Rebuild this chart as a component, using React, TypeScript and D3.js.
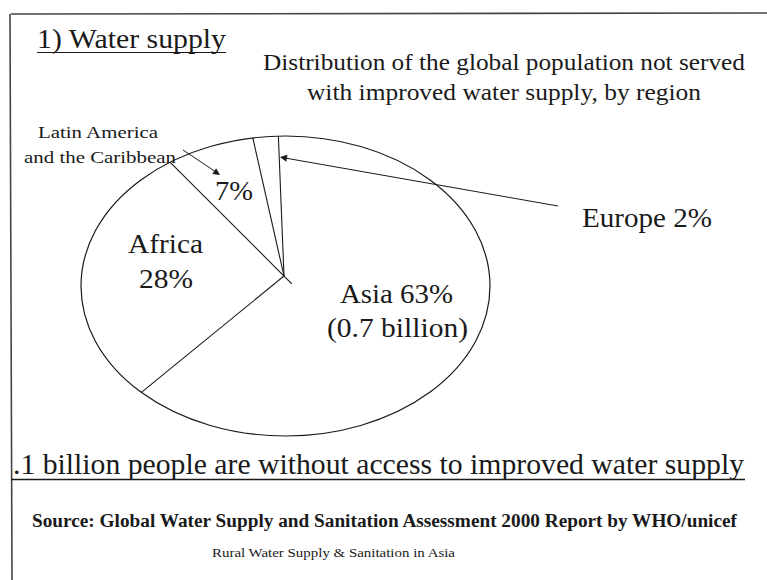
import React from "react";
import * as d3 from "d3";

// ---- data ----
const regions = ["Asia", "Africa", "Latin America and the Caribbean", "Europe"];
const shares = [63, 28, 7, 2];
const pieStartDeg = -2;

const titleText = "1) Water supply";
const subtitleLines = [
  "Distribution of the global population not served",
  "with improved water supply, by region",
];
const latinLabel = ["Latin America", "and the Caribbean"];
const latinPct = "7%";
const africaLabel = ["Africa", "28%"];
const asiaLabel = ["Asia 63%", "(0.7 billion)"];
const europeLabel = "Europe 2%";
const summaryText = ".1 billion people are without access to improved water supply";
const sourceText = "Source: Global Water Supply and Sanitation Assessment 2000 Report by WHO/unicef";
const footerText = "Rural Water Supply & Sanitation in Asia";

const W = 767;
const H = 580;
const FONT = "Liberation Serif, Times New Roman, Times, Tinos, serif";
const INK = "#1a1a1a";

export default function App() {
  const cx = 285.5, cy = 286, rx = 204.5, ry = 150;
  const vx = 284, vy = 276;
  const toRad = (d: number) => (d * Math.PI) / 180;

  const pie = d3
    .pie<number>()
    .sort(null)
    .value((d) => d)
    .startAngle(toRad(pieStartDeg))
    .endAngle(toRad(pieStartDeg + 360));
  const arcs = pie(shares);

  const onEllipse = (a: number) => [cx + rx * Math.sin(a), cy - ry * Math.cos(a)];

  const line = d3.line();

  const arrowHead = (x1: number, y1: number, x2: number, y2: number, len = 7, w = 3) => {
    const ang = Math.atan2(y2 - y1, x2 - x1);
    const bx = x2 - len * Math.cos(ang);
    const by = y2 - len * Math.sin(ang);
    const px = -Math.sin(ang) * w;
    const py = Math.cos(ang) * w;
    return `M${x2},${y2}L${bx + px},${by + py}L${bx - px},${by - py}Z`;
  };

  const T = (props: any) => (
    <text
      fill={INK}
      lengthAdjust="spacingAndGlyphs"
      style={{ fontFamily: FONT }}
      {...props}
    />
  );

  const latinArrow = [183, 150, 220, 175];
  const euroArrow = [558, 206, 280, 157];

  return (
    <svg
      width={W}
      height={H}
      style={{ position: "absolute", left: 0, top: 0, background: "#fff", fontFamily: FONT }}
    >
      <rect x={0} y={0} width={W} height={H} fill="#fff" />
      {/* frame */}
      <line x1={11} y1={14} x2={W} y2={13} stroke="#444" strokeWidth={1.6} />
      <line x1={10} y1={14} x2={12} y2={H} stroke="#444" strokeWidth={1.6} />

      {/* heading */}
      <T x={37} y={48} fontSize={28} textLength={189}>{titleText}</T>
      <line x1={37} y1={52.5} x2={226} y2={52.5} stroke={INK} strokeWidth={1.2} />

      {subtitleLines.map((s, i) => (
        <T
          key={i}
          x={504}
          y={70 + i * 29.5}
          fontSize={24}
          textAnchor="middle"
          textLength={i === 0 ? 482 : 394}
        >
          {s}
        </T>
      ))}

      {/* pie ellipse */}
      <ellipse cx={cx} cy={cy} rx={rx} ry={ry} fill="none" stroke={INK} strokeWidth={1.2} />
      {arcs.map((a, i) => {
        const [ex, ey] = onEllipse(a.startAngle);
        let endX = vx, endY = vy;
        if (regions[i].startsWith("Latin")) {
          const dx = vx - ex, dy = vy - ey;
          const L = Math.hypot(dx, dy);
          endX = vx + (dx / L) * 11;
          endY = vy + (dy / L) * 11;
        }
        return (
          <path
            key={i}
            d={line([[ex, ey], [endX, endY]]) || ""}
            stroke={INK}
            strokeWidth={1.1}
            fill="none"
          />
        );
      })}

      {/* Latin America label + arrow */}
      <T x={98} y={138} fontSize={17} textAnchor="middle" textLength={120}>{latinLabel[0]}</T>
      <T x={100} y={163} fontSize={17} textAnchor="middle" textLength={152}>{latinLabel[1]}</T>
      <path
        d={line([[latinArrow[0], latinArrow[1]], [latinArrow[2] - 4, latinArrow[3] - 3]]) || ""}
        stroke={INK}
        strokeWidth={1}
      />
      <path d={arrowHead(latinArrow[0], latinArrow[1], latinArrow[2], latinArrow[3], 7, 3.5)} fill={INK} />
      <T x={234} y={200} fontSize={27} textAnchor="middle" textLength={38}>{latinPct}</T>

      {/* Africa */}
      <T x={165.5} y={253} fontSize={28} textAnchor="middle" textLength={75}>{africaLabel[0]}</T>
      <T x={166} y={288} fontSize={28} textAnchor="middle" textLength={54}>{africaLabel[1]}</T>

      {/* Asia */}
      <T x={396.5} y={303} fontSize={28} textAnchor="middle" textLength={113}>{asiaLabel[0]}</T>
      <T x={397.5} y={337} fontSize={28} textAnchor="middle" textLength={141}>{asiaLabel[1]}</T>

      {/* Europe label + arrow */}
      <T x={582} y={227} fontSize={28} textLength={130}>{europeLabel}</T>
      <path
        d={line([[euroArrow[0], euroArrow[1]], [euroArrow[2] + 5, euroArrow[3] + 1]]) || ""}
        stroke={INK}
        strokeWidth={1}
      />
      <path d={arrowHead(euroArrow[0], euroArrow[1], euroArrow[2], euroArrow[3], 7, 3.5)} fill={INK} />

      {/* summary */}
      <T x={13} y={474} fontSize={29} textLength={731}>{summaryText}</T>
      <line x1={11} y1={479.5} x2={745} y2={479.5} stroke={INK} strokeWidth={1.4} />

      {/* source */}
      <T x={32} y={527} fontSize={18} fontWeight="bold" textLength={705}>{sourceText}</T>
      <T x={212} y={557} fontSize={13} textLength={243}>{footerText}</T>
    </svg>
  );
}
